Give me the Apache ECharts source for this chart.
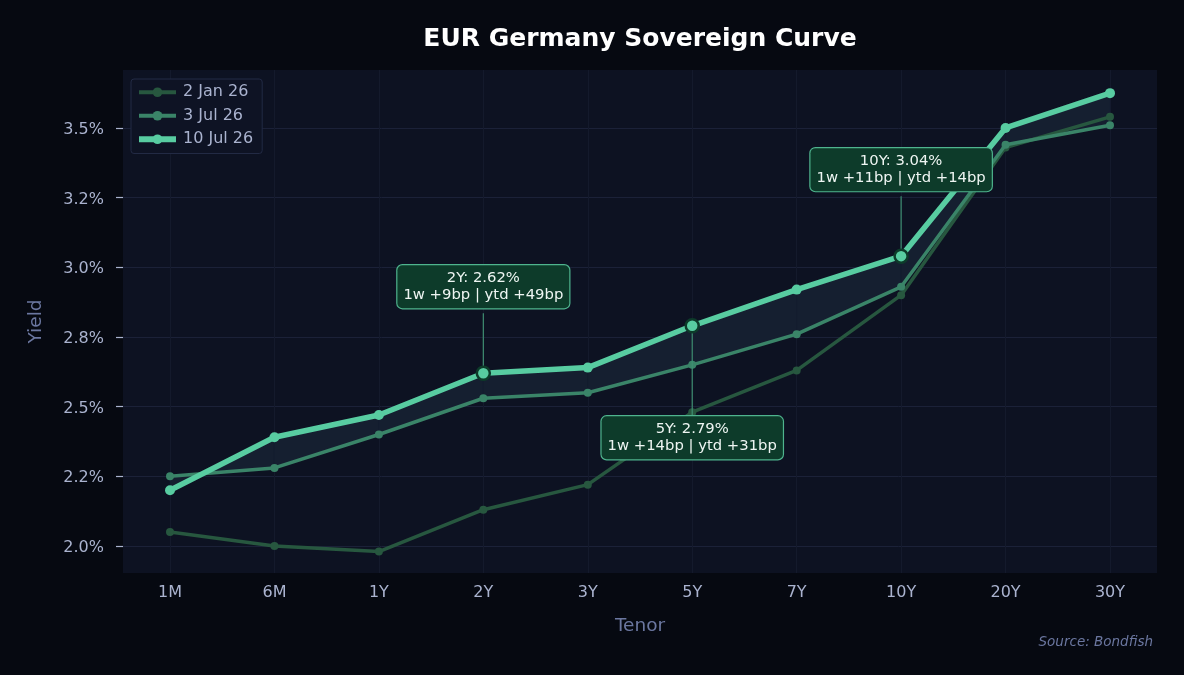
<!DOCTYPE html>
<html>
<head>
<meta charset="utf-8">
<script src="https://cdn.jsdelivr.net/npm/echarts@6/dist/echarts.min.js"></script>
<style>
  html, body { margin: 0; padding: 0; background: #060911; }
  #chart { width: 1184px; height: 675px; }
</style>
</head>
<body>
<div id="chart"></div>
<script>
// ---- Data ----
const tenors = ['1M', '6M', '1Y', '2Y', '3Y', '5Y', '7Y', '10Y', '20Y', '30Y'];
const seriesNames = ['2 Jan 26', '3 Jul 26', '10 Jul 26'];
const yields2Jan = [2.05, 2.00, 1.98, 2.13, 2.22, 2.48, 2.63, 2.90, 3.43, 3.54];
const yields3Jul = [2.25, 2.28, 2.40, 2.53, 2.55, 2.65, 2.76, 2.93, 3.44, 3.51];
const yields10Jul = [2.20, 2.39, 2.47, 2.62, 2.64, 2.79, 2.92, 3.04, 3.50, 3.625];
const yTicks = [2.0, 2.25, 2.5, 2.75, 3.0, 3.25, 3.5];
const yTickLabels = ['2.0%', '2.2%', '2.5%', '2.8%', '3.0%', '3.2%', '3.5%'];
const annotatedTenors = ['2Y', '5Y', '10Y'];

// ---- Styling / layout (not data) ----
const FONT = 'DejaVu Sans';
const annotOffsets = { '2Y': -86.5, '5Y': 112, '10Y': -86.5 };
const colors = ['#27573f', '#3a8468', '#58cca1'];
const widths = [3.5, 3.5, 5.5];
const symSizes = [8, 8, 10];

const idx = tenors.map((t, i) => i);
const toPairs = arr => arr.map((v, i) => [i, v]);

function bp(a, b) { return Math.round((a - b) * 100); }
function sgn(n) { return (n >= 0 ? '+' : '') + n; }

const annotData = annotatedTenors.map(t => {
  const i = tenors.indexOf(t);
  return [i, yields10Jul[i]];
});

const chart = echarts.init(document.getElementById('chart'));

const option = {
  animation: false,
  backgroundColor: '#060911',
  textStyle: { fontFamily: FONT },
  title: {
    text: 'EUR Germany Sovereign Curve',
    left: 640,
    textAlign: 'center',
    top: 27,
    padding: 0,
    textStyle: { color: '#ffffff', fontSize: 25, fontWeight: 'bold', fontFamily: FONT }
  },
  grid: {
    left: 123, right: 27, top: 70, bottom: 102,
    show: true, backgroundColor: '#0d1222', borderWidth: 0
  },
  legend: {
    left: 131, top: 79,
    orient: 'vertical',
    backgroundColor: '#0e1324',
    borderColor: '#222a44',
    borderWidth: 1,
    borderRadius: 3,
    padding: [4, 9, 5, 5],
    itemWidth: 37,
    itemHeight: 12,
    itemGap: 5,
    textStyle: { color: '#aab3cf', fontSize: 16, fontFamily: FONT, lineHeight: 18.5, padding: [0, 0, 0, 2] },
    data: seriesNames.map((n, k) => ({ name: n, lineStyle: { width: widths[k] + 0.5 } }))
  },
  xAxis: {
    type: 'value',
    min: -0.45,
    max: 9.45,
    name: 'Tenor',
    nameLocation: 'middle',
    nameGap: 44,
    nameTextStyle: { color: '#6b77a0', fontSize: 18.5, fontFamily: FONT },
    axisLine: { show: false, onZero: false },
    axisTick: { show: false, customValues: idx },
    axisLabel: {
      customValues: idx,
      color: '#aab3cf', fontSize: 16, fontFamily: FONT, margin: 12,
      formatter: v => tenors[Math.round(v)]
    },
    splitLine: { show: true, lineStyle: { color: '#141a2c', width: 1 } }
  },
  yAxis: {
    type: 'value',
    min: 1.903,
    max: 3.708,
    name: 'Yield',
    nameLocation: 'middle',
    nameGap: 77,
    nameTextStyle: { color: '#6b77a0', fontSize: 18.5, fontFamily: FONT },
    axisLine: { show: false, onZero: false },
    axisTick: { show: true, length: 7, customValues: yTicks, lineStyle: { color: '#aab3cf', width: 1.2 } },
    axisLabel: {
      customValues: yTicks,
      color: '#aab3cf', fontSize: 16, fontFamily: FONT, margin: 19,
      formatter: v => {
        const k = yTicks.findIndex(t => Math.abs(t - v) < 1e-6);
        return k >= 0 ? '{v|' + yTickLabels[k] + '}' : '';
      },
      rich: {
        v: { color: '#aab3cf', fontSize: 16, fontFamily: FONT, padding: [4, 0, 0, 0] }
      }
    },
    splitLine: { show: true, lineStyle: { color: '#1b2138', width: 1 } }
  },
  graphic: [{
    type: 'text',
    right: 31,
    top: 635,
    style: { text: 'Source: Bondfish', fill: '#6b77a0', fontSize: 13.5, fontStyle: 'italic', fontFamily: FONT }
  }],
  series: [
    {
      type: 'custom',
      name: 'fill',
      silent: true,
      z: 1,
      clip: true,
      data: toPairs(yields10Jul).slice(0, tenors.length - 1),
      encode: { x: 0, y: 1 },
      renderItem: (params, api) => {
        const i = params.dataIndex;
        const pts = [
          api.coord([i, yields10Jul[i]]),
          api.coord([i + 1, yields10Jul[i + 1]]),
          api.coord([i + 1, yields3Jul[i + 1]]),
          api.coord([i, yields3Jul[i]])
        ];
        return { type: 'polygon', shape: { points: pts }, style: { fill: '#151f30', stroke: '#151f30', lineWidth: 0.5 } };
      }
    },
    {
      type: 'line', name: seriesNames[0], z: 2,
      data: toPairs(yields2Jan),
      symbol: 'circle', symbolSize: symSizes[0], showSymbol: true,
      lineStyle: { color: colors[0], width: widths[0] },
      itemStyle: { color: colors[0] }
    },
    {
      type: 'line', name: seriesNames[1], z: 3,
      data: toPairs(yields3Jul),
      symbol: 'circle', symbolSize: symSizes[1], showSymbol: true,
      lineStyle: { color: colors[1], width: widths[1] },
      itemStyle: { color: colors[1] }
    },
    {
      type: 'line', name: seriesNames[2], z: 4,
      data: toPairs(yields10Jul),
      symbol: 'circle', symbolSize: symSizes[2], showSymbol: true,
      lineStyle: { color: colors[2], width: widths[2] },
      itemStyle: { color: colors[2] }
    },
    {
      type: 'custom',
      name: 'annotations',
      silent: true,
      z: 10,
      clip: false,
      data: annotData,
      encode: { x: 0, y: 1 },
      renderItem: (params, api) => {
        const i = annotData[params.dataIndex][0];
        const t = tenors[i];
        const p = api.coord([i, yields10Jul[i]]);
        const dy = annotOffsets[t];
        const boxH = 43;
        const cy = p[1] + dy;
        let y1, y2;
        if (dy < 0) { y1 = cy + boxH / 2 + 5; y2 = p[1] - 5; }
        else { y1 = p[1] + 5; y2 = cy - boxH / 2; }
        const w = bp(yields10Jul[i], yields3Jul[i]);
        const ytd = bp(yields10Jul[i], yields2Jan[i]);
        const txt = t + ': ' + yields10Jul[i].toFixed(2) + '%\n1w ' + sgn(w) + 'bp | ytd ' + sgn(ytd) + 'bp';
        return {
          type: 'group',
          children: [
            { type: 'line', shape: { x1: p[0], y1: y1, x2: p[0], y2: y2 }, style: { stroke: '#3f8f72', lineWidth: 1.2 } },
            { type: 'circle', shape: { cx: p[0], cy: p[1], r: 6.5 }, style: { fill: '#58cca1', stroke: '#0d3b2a', lineWidth: 2.5 } },
            {
              type: 'text', x: p[0], y: cy,
              style: {
                text: txt, fill: '#eef5f2', fontSize: 14.8, fontFamily: FONT,
                align: 'center', verticalAlign: 'middle', lineHeight: 17.5,
                backgroundColor: '#0d3b2a', borderColor: '#4fb48e', borderWidth: 1.2, borderRadius: 5,
                padding: [4, 6, 4, 6]
              }
            }
          ]
        };
      }
    }
  ]
};

chart.setOption(option);
</script>
</body>
</html>
